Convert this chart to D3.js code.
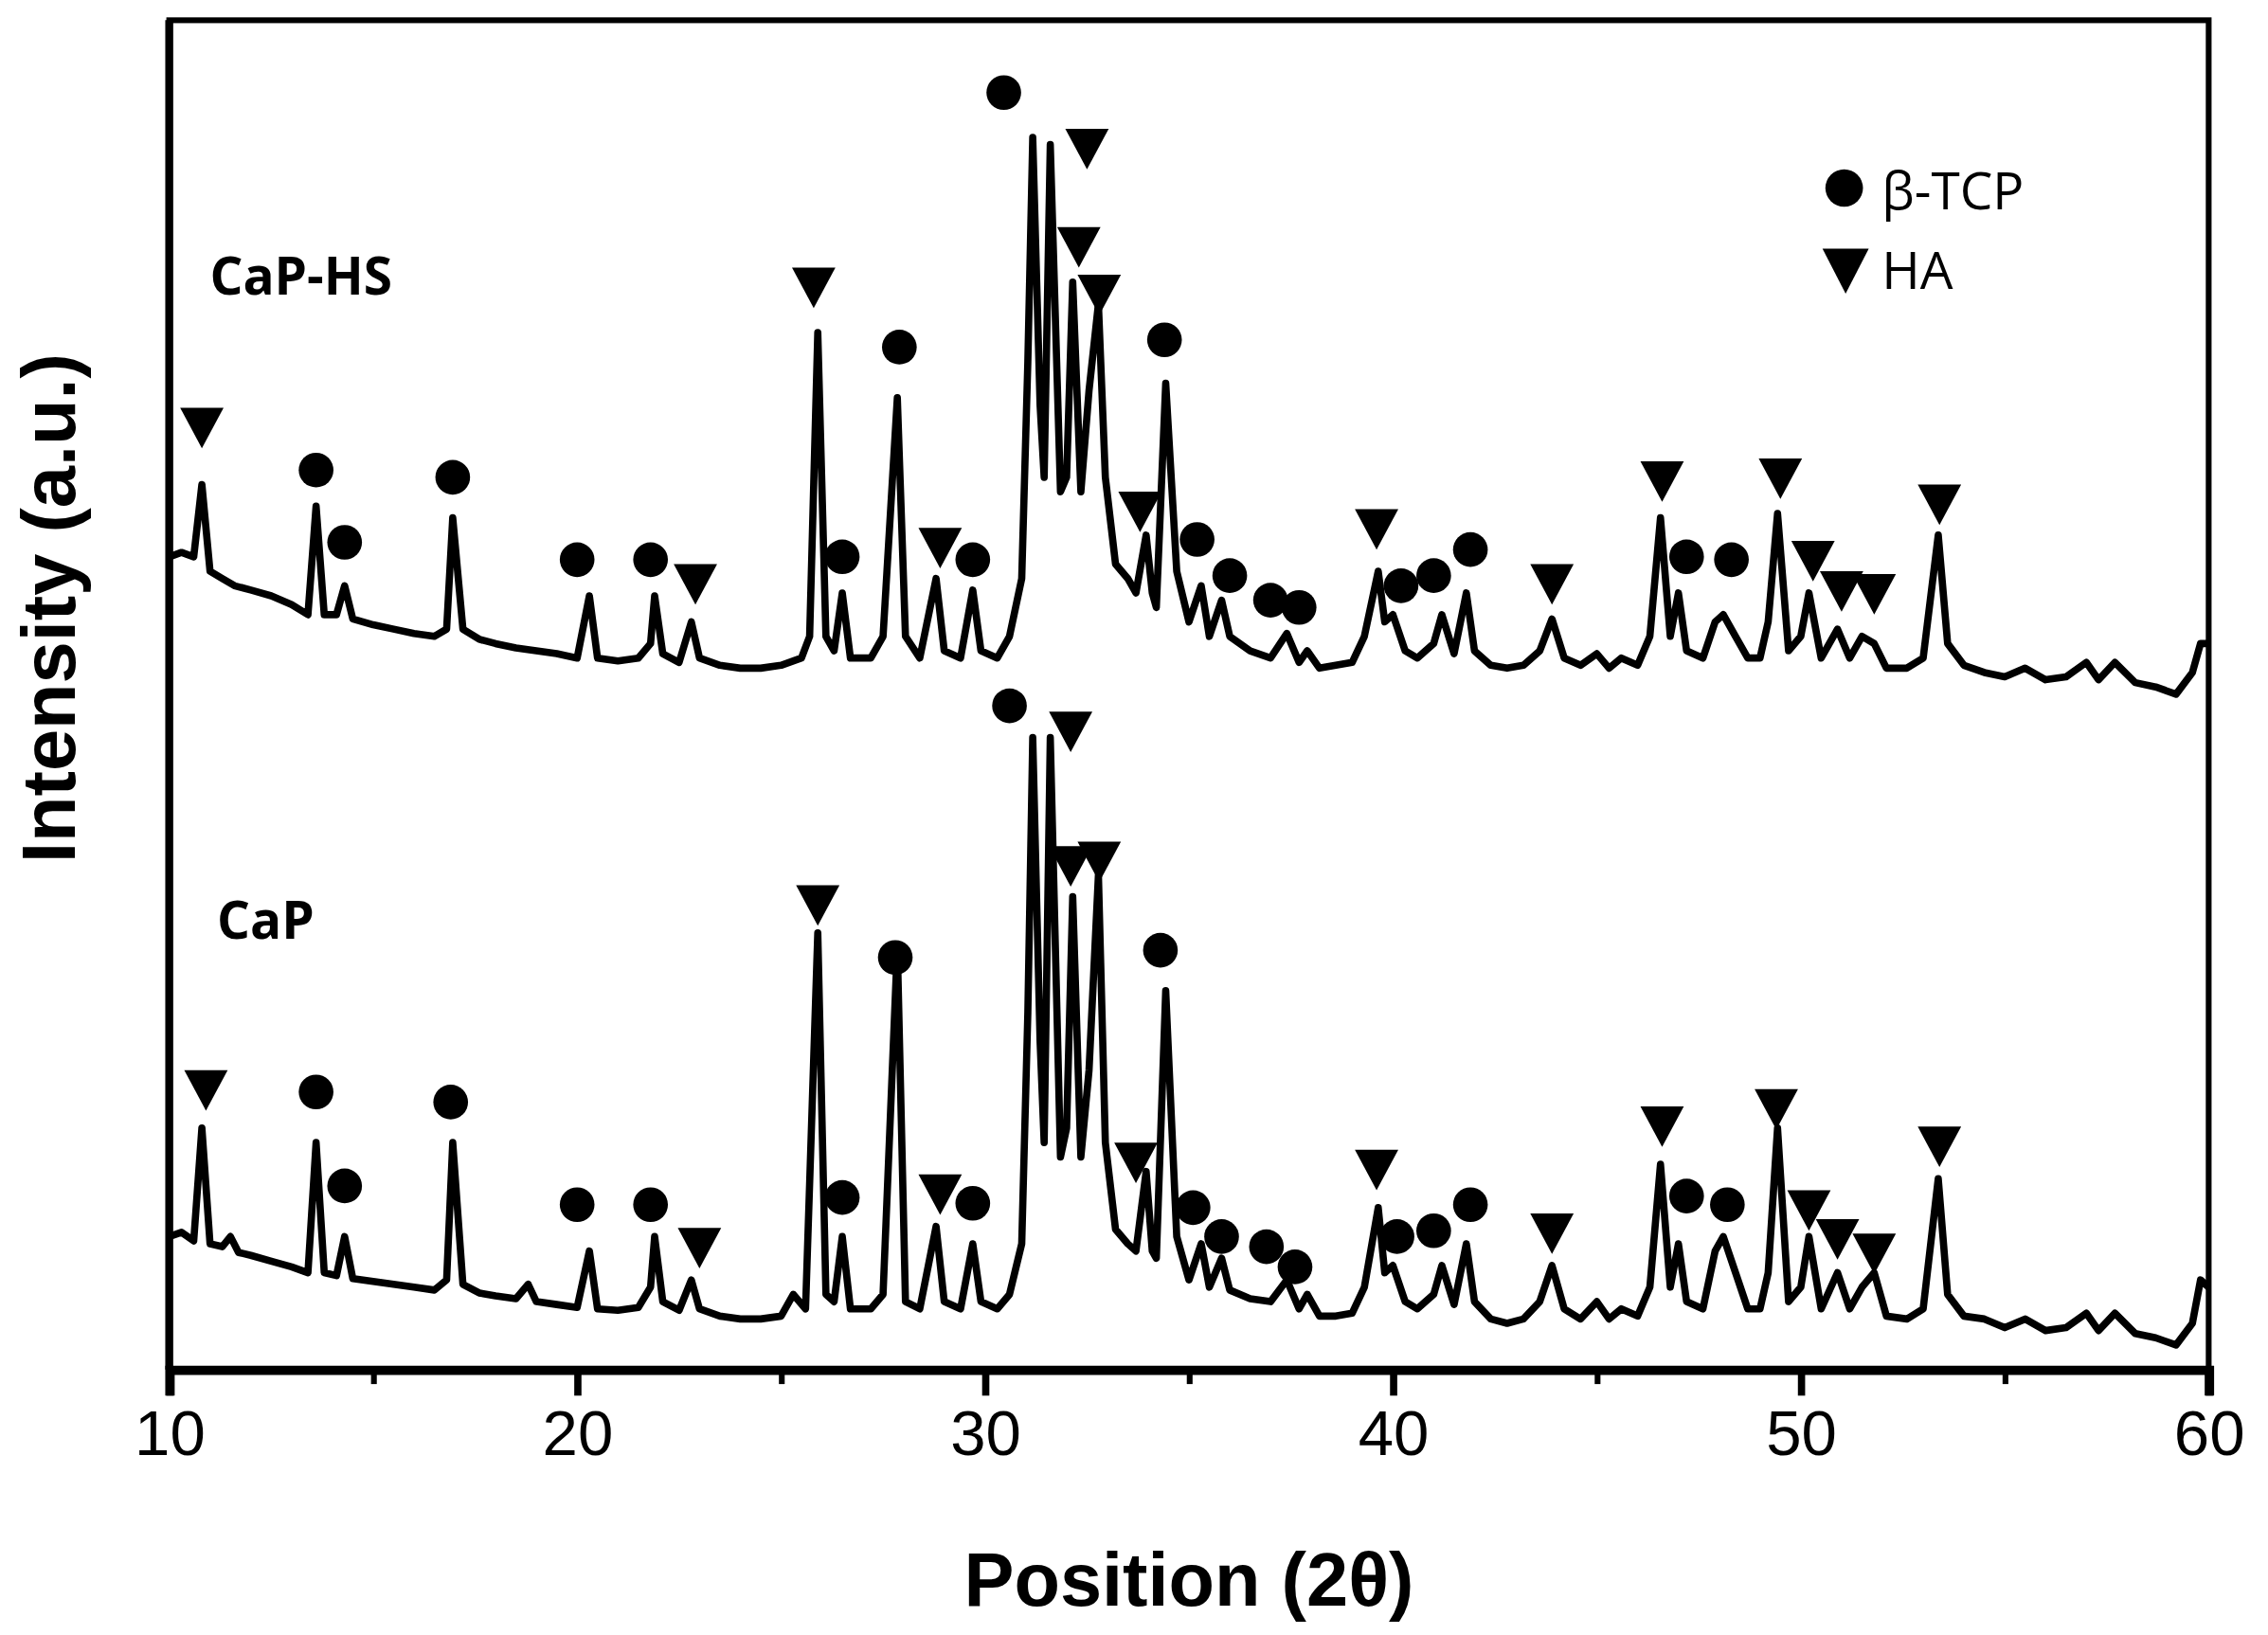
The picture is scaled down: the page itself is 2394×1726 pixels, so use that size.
<!DOCTYPE html>
<html><head><meta charset="utf-8">
<script src="https://cdn.jsdelivr.net/npm/d3@7"></script>
<style>body{margin:0;background:#fff}</style></head>
<body><svg id="c" width="2394" height="1726" viewBox="0 0 1568 1130.5"></svg>
<script>
// [2θ, raw level] ; raw level measured downward from top (converted below to a.u.)
const capHS = [[10.0,385],[10.3,382],[10.6,385],[10.8,335],[11.0,395],[11.3,400],[11.6,405],[12.0,408],[12.5,412],[13.0,418],[13.4,425],[13.6,350],[13.8,425],[14.1,425],[14.3,405],[14.5,428],[15,432],[15.5,435],[16,438],[16.5,440],[16.8,435],[16.95,358],[17.2,435],[17.6,442],[18,445],[18.5,448],[19,450],[19.5,452],[20.0,455],[20.3,412],[20.5,455],[21,457],[21.5,455],[21.8,445],[21.9,412],[22.1,452],[22.5,458],[22.8,430],[23.0,455],[23.5,460],[24,462],[24.5,462],[25,460],[25.5,455],[25.7,440],[25.9,230],[26.1,440],[26.3,450],[26.5,410],[26.7,455],[27.2,455],[27.5,440],[27.85,275],[28.05,440],[28.4,455],[28.8,400],[29.0,450],[29.4,455],[29.7,408],[29.9,450],[30.3,455],[30.6,440],[30.9,400],[31.05,250],[31.17,95],[31.35,280],[31.45,330],[31.6,100],[31.85,340],[32.0,330],[32.15,195],[32.35,340],[32.55,270],[32.78,210],[32.95,330],[33.2,390],[33.5,400],[33.7,410],[33.95,370],[34.1,410],[34.2,420],[34.43,265],[34.7,395],[35.0,430],[35.3,405],[35.5,440],[35.8,415],[36.0,440],[36.5,450],[37.0,455],[37.4,438],[37.7,458],[37.9,450],[38.2,462],[38.6,460],[39.0,458],[39.3,440],[39.64,395],[39.8,430],[40.0,425],[40.3,450],[40.6,455],[41.0,445],[41.2,425],[41.5,452],[41.8,410],[42.0,450],[42.4,460],[42.8,462],[43.2,460],[43.6,450],[43.9,428],[44.2,455],[44.6,460],[45,452],[45.3,462],[45.6,455],[46.0,460],[46.3,440],[46.56,358],[46.8,440],[47.0,410],[47.2,450],[47.6,455],[47.9,430],[48.1,425],[48.4,440],[48.7,455],[49.0,455],[49.2,430],[49.43,355],[49.7,450],[50.0,440],[50.2,410],[50.5,455],[50.9,435],[51.2,455],[51.5,440],[51.8,445],[52.1,462],[52.6,462],[53.0,455],[53.37,370],[53.6,445],[54.0,460],[54.5,465],[55,468],[55.5,462],[56,470],[56.5,468],[57.0,458],[57.3,470],[57.7,458],[58.2,472],[58.7,475],[59.2,480],[59.6,465],[59.8,445],[60.0,445]];
const capRaw = [[10.0,855],[10.3,852],[10.6,858],[10.8,780],[11.0,860],[11.3,862],[11.5,855],[11.7,866],[12.0,868],[12.5,872],[13.0,876],[13.4,880],[13.6,790],[13.8,880],[14.1,882],[14.3,855],[14.5,884],[15,886],[15.5,888],[16,890],[16.5,892],[16.8,885],[16.95,790],[17.2,888],[17.6,894],[18,896],[18.5,898],[18.8,888],[19,900],[19.5,902],[20.0,904],[20.3,865],[20.5,905],[21,906],[21.5,904],[21.8,890],[21.9,855],[22.1,900],[22.5,906],[22.8,885],[23.0,905],[23.5,910],[24,912],[24.5,912],[25,910],[25.3,895],[25.6,905],[25.9,645],[26.1,895],[26.3,900],[26.5,855],[26.7,905],[27.2,905],[27.5,895],[27.85,655],[28.05,900],[28.4,905],[28.8,848],[29.0,900],[29.4,905],[29.7,860],[29.9,900],[30.3,905],[30.6,895],[30.9,860],[31.05,700],[31.17,510],[31.35,720],[31.45,790],[31.6,510],[31.85,800],[32.0,780],[32.15,620],[32.35,800],[32.55,740],[32.78,605],[32.95,790],[33.2,850],[33.5,860],[33.7,865],[33.95,810],[34.1,865],[34.2,870],[34.43,685],[34.7,855],[35.0,885],[35.3,860],[35.5,890],[35.8,870],[36.0,892],[36.5,898],[37.0,900],[37.4,885],[37.7,905],[37.9,895],[38.2,910],[38.6,910],[39.0,908],[39.3,890],[39.64,835],[39.8,880],[40.0,875],[40.3,900],[40.6,905],[41.0,895],[41.2,875],[41.5,902],[41.8,860],[42.0,900],[42.4,912],[42.8,915],[43.2,912],[43.6,900],[43.9,875],[44.2,905],[44.6,912],[45,900],[45.3,912],[45.6,905],[46.0,910],[46.3,890],[46.56,805],[46.8,890],[47.0,860],[47.2,900],[47.6,905],[47.9,865],[48.1,855],[48.4,880],[48.7,905],[49.0,905],[49.2,880],[49.43,780],[49.7,900],[50.0,890],[50.2,855],[50.5,905],[50.9,880],[51.2,905],[51.5,890],[51.8,880],[52.1,910],[52.6,912],[53.0,905],[53.37,815],[53.6,895],[54.0,910],[54.5,912],[55,918],[55.5,912],[56,920],[56.5,918],[57.0,908],[57.3,920],[57.7,908],[58.2,922],[58.7,925],[59.2,930],[59.6,915],[59.8,885],[60.0,890]];
const circlesHS = [[30.46,64],[13.6,325],[14.3,375],[16.95,330],[20.0,387],[21.8,387],[26.5,385],[27.9,240],[29.7,387],[34.4,235],[35.2,373],[36.0,398],[37.0,415],[37.7,420],[40.2,405],[41.0,398],[41.9,380],[47.2,385],[48.3,387]];
const trisHS = [[10.8,295],[22.9,403],[25.8,198],[28.9,378],[32.5,102],[32.3,170],[32.8,203],[33.8,353],[39.6,365],[43.9,403],[46.6,332],[49.5,330],[50.3,387],[51.0,408],[51.8,410],[53.4,348]];
const circlesCaP = [[30.6,488],[13.6,755],[14.3,820],[16.9,762],[20.0,833],[21.8,833],[26.5,828],[27.8,662],[29.7,832],[34.3,657],[35.1,835],[35.8,855],[36.9,862],[37.6,876],[40.1,855],[41.0,851],[41.9,833],[47.2,827],[48.2,833]];
const trisCaP = [[10.9,753],[23.0,862],[25.9,625],[28.9,825],[32.1,505],[32.1,598],[32.8,595],[33.7,803],[39.6,808],[43.9,852],[46.6,778],[49.4,766],[50.2,836],[50.9,856],[51.8,866],[53.4,792]];
const xTicks = [10,20,30,40,50,60];
const xMinor = [15,25,35,45,55];
const seriesLabels = ["CaP-HS","CaP"];
const legendLabels = ["β-TCP","HA"];

const L=117,R=1527,T=14,B=947;
const toAU = v => B - v;
const svg=d3.select("#c");
const x=d3.scaleLinear().domain([10,60]).range([L,R]);
const y=d3.scaleLinear().domain([0,B-T]).range([B,T]);
const line=d3.line().x(d=>x(d[0])).y(d=>y(toAU(d[1])));
[capHS,capRaw].forEach(s=>svg.append("path").attr("d",line(s)).attr("fill","none").attr("stroke","#000").attr("stroke-width",5).attr("stroke-linejoin","round"));

svg.append("rect").attr("x",L).attr("y",T).attr("width",R-L).attr("height",B-T).attr("fill","none").attr("stroke","#000").attr("stroke-width",4);
svg.append("line").attr("x1",L).attr("x2",L).attr("y1",T).attr("y2",B).attr("stroke","#000").attr("stroke-width",5.5);
const ax=svg.append("g").attr("transform",`translate(0,${B})`).call(d3.axisBottom(x).tickValues(xTicks).tickSize(18).tickPadding(10).tickFormat(d3.format("d")));
ax.select(".domain").attr("stroke-width",6.5);
ax.selectAll(".tick line").attr("stroke-width",5);
ax.selectAll("text").attr("font-family","Liberation Sans, Arial").attr("font-size",44).attr("fill","#000");
svg.append("g").attr("transform",`translate(0,${B})`).call(d3.axisBottom(x).tickValues(xMinor).tickSize(10).tickFormat("")).call(g=>g.select(".domain").remove()).selectAll("line").attr("stroke-width",4);

const sym=(g,pts,type)=>{
  pts.forEach(p=>{
    if(type==="c") g.append("circle").attr("cx",x(p[0])).attr("cy",y(toAU(p[1]))).attr("r",12).attr("fill","#000");
    else {const cx=x(p[0]),cy=y(toAU(p[1]));g.append("path").attr("d",`M${cx-15},${cy-13}L${cx+15},${cy-13}L${cx},${cy+15}Z`).attr("fill","#000");}
  });
};
const g=svg.append("g");
sym(g,circlesHS,"c");sym(g,circlesCaP,"c");sym(g,trisHS,"t");sym(g,trisCaP,"t");

// legend
g.append("circle").attr("cx",1275).attr("cy",130).attr("r",13).attr("fill","#000");
g.append("path").attr("d","M1260,172L1292,172L1276,203Z").attr("fill","#000");
svg.append("text").attr("x",1301).attr("y",145).text(legendLabels[0]).attr("font-family","Open Sans").attr("font-size",36);
svg.append("text").attr("x",1301).attr("y",200).text(legendLabels[1]).attr("font-family","Open Sans").attr("font-size",36);
svg.append("text").attr("x",145).attr("y",204).text(seriesLabels[0]).attr("font-family","Open Sans").attr("font-weight","bold").attr("font-size",36);
svg.append("text").attr("x",150).attr("y",649).text(seriesLabels[1]).attr("font-family","Open Sans").attr("font-weight","bold").attr("font-size",36);

svg.append("text").attr("x",(L+R)/2).attr("y",1110).attr("text-anchor","middle").text("Position (2θ)").attr("font-family","Liberation Sans, Arial").attr("font-weight","bold").attr("font-size",52);
svg.append("text").attr("transform",`translate(52,${(T+B)/2-60}) rotate(-90)`).attr("text-anchor","middle").text("Intensity (a.u.)").attr("font-family","Liberation Sans, Arial").attr("font-weight","bold").attr("font-size",52);
</script></body></html>
